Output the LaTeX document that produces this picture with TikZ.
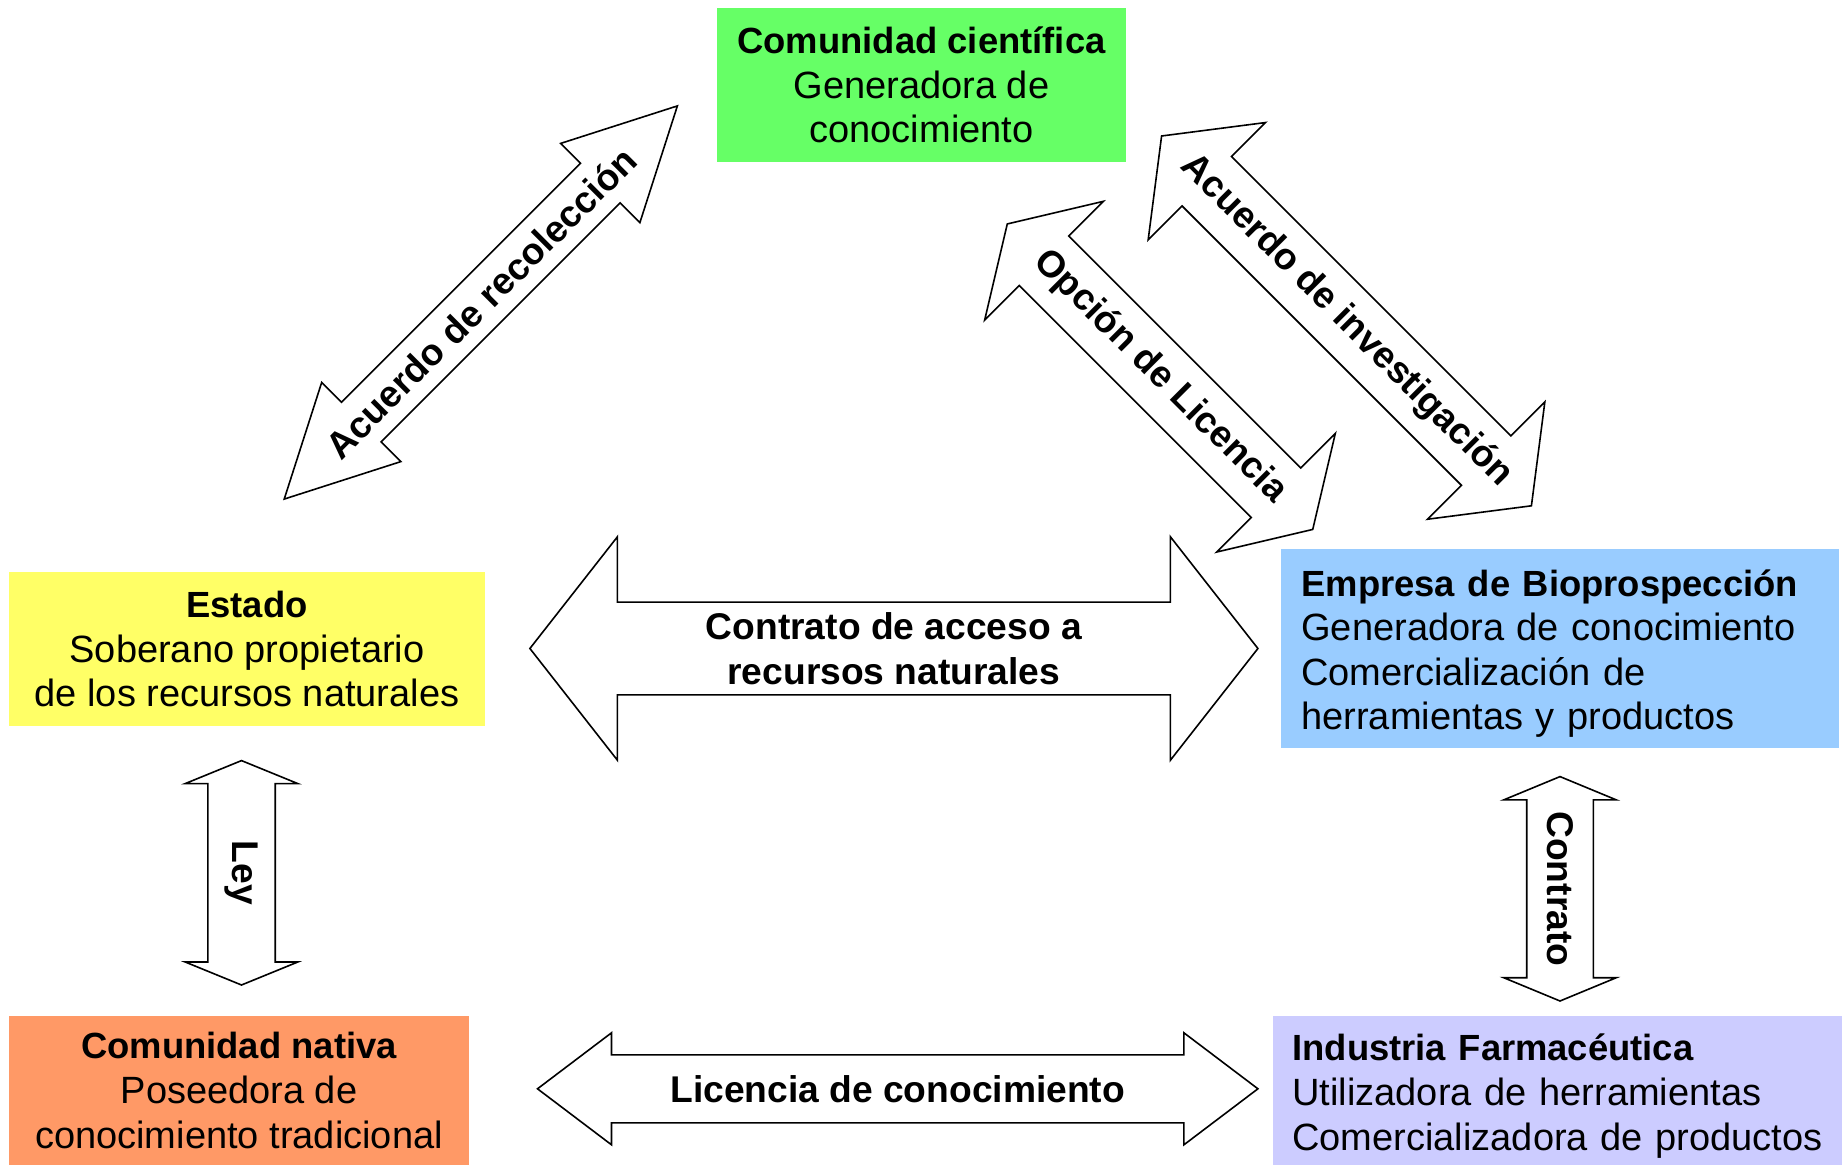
\documentclass[tikz,border=0pt]{standalone}
\usepackage{fontspec}
\setmainfont{Liberation Sans}
\definecolor{verde}{HTML}{66FF66}
\definecolor{amarillo}{HTML}{FFFF66}
\definecolor{celeste}{HTML}{99CCFF}
\definecolor{naranja}{HTML}{FF9966}
\definecolor{lila}{HTML}{CCCCFF}
\newcommand{\titulo}[1]{{\fontsize{18.2}{22.3}\selectfont\bfseries #1}}

% #1 name, #2 centre, #3 angle, #4 half length, #5 head length, #6 head half width, #7 shaft half width, #8 text
\newcommand{\flecha}[8]{%
\begin{scope}[shift={#2}, rotate=#3]
\draw[borde] (-#4,0) -- ({-#4+#5},#6) -- ({-#4+#5},#7) -- ({#4-#5},#7) -- ({#4-#5},#6) -- (#4,0)
 -- ({#4-#5},-#6) -- ({#4-#5},-#7) -- ({-#4+#5},-#7) -- ({-#4+#5},-#6) -- cycle;
\node[rotulo, transform shape] (#1) at (0,0) {#8};
\end{scope}}

\begin{document}
\begin{tikzpicture}[x=0.5pt, y=-0.5pt,
caja/.style={inner sep=0pt, font=\fontsize{19}{22.3}\selectfont},
centrada/.style={caja, align=center},
izquierda/.style={caja, align=left, anchor=west},
borde/.style={draw=black, line width=0.8pt, fill=white},
rotulo/.style={inner sep=0pt, align=center, font=\fontsize{18.6}{22.3}\selectfont\bfseries}]

\useasboundingbox (0,0) rectangle (1842,1165);

\node[centrada, fill=verde, minimum width=204.5pt, minimum height=77pt] (cientifica) at (921.5,85)
{\titulo{Comunidad científica}\\Generadora de\\conocimiento};
\node[centrada, fill=amarillo, minimum width=238pt, minimum height=77pt] (estado) at (247,649)
{\titulo{Estado}\\Soberano propietario\\de los recursos naturales};
\node[centrada, fill=naranja, minimum width=230pt, minimum height=74.5pt] (nativa) at (239,1090.5)
{\titulo{Comunidad nativa}\\Poseedora de\\conocimiento tradicional};

\fill[celeste] (1281,549) rectangle (1839,748);
\node[izquierda, text width=259pt] (empresa) at (1301,653.5)
{\titulo{Empresa de Bioprospección}\\Generadora de conocimiento\\Comercialización de\\herramientas y productos};
\fill[lila] (1273,1016) rectangle (1842,1165);
\node[izquierda, text width=265.5pt] (industria) at (1292,1096)
{\titulo{Industria Farmacéutica}\\Utilizadora de herramientas\\Comercializadora de productos};

\flecha{recoleccion}{(480.8,302.5)}{45}{278}{109}{56}{28}{Acuerdo de recolección}
\flecha{opcion}{(1160,376.7)}{-45}{216}{52}{84}{35}{Opción de Licencia}
\flecha{investigacion}{(1346.5,320.9)}{-45}{261.5}{64}{83}{35}{Acuerdo de investigación}
\flecha{acceso}{(893.9,648.5)}{0}{364}{87.5}{111.7}{46.3}{Contrato de acceso a\\recursos naturales}
\flecha{licencia}{(897.7,1088.8)}{0}{360.2}{74}{56}{34}{Licencia de conocimiento}
\flecha{ley}{(241.5,872.8)}{-90}{112.2}{23}{56.3}{33.7}{Ley}
\flecha{contrato}{(1560,888.8)}{-90}{112.2}{23.3}{56.3}{33.3}{Contrato}

\end{tikzpicture}
\end{document}
